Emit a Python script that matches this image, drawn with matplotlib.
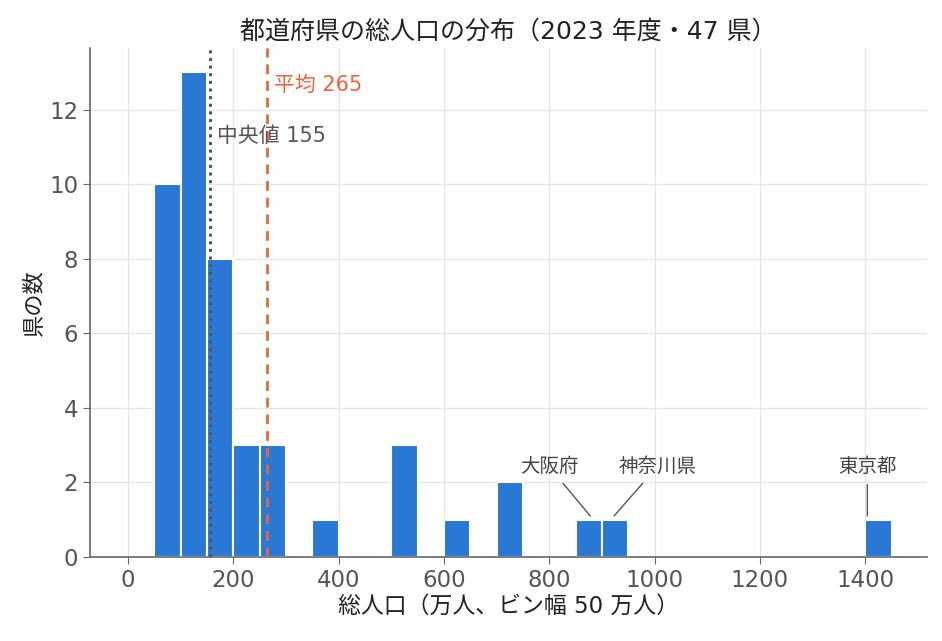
import matplotlib
matplotlib.use("Agg")
import matplotlib.pyplot as plt

plt.rcParams['font.family'] = ['DejaVu Sans', 'Noto Sans CJK JP']

bin_left = [50, 100, 150, 200, 250, 350, 500, 600, 700, 850, 900, 1400]
counts = [10, 13, 8, 3, 3, 1, 3, 1, 2, 1, 1, 1]
bin_width = 50
mean_val = 265
median_val = 155
labels = ["大阪府", "神奈川県", "東京都"]
label_pop = [878, 923, 1404]
label_text_x = [800, 1005, 1404]

fig = plt.figure(figsize=(9.42, 6.41), dpi=100)
ax = fig.add_axes([0.0955, 0.131, 0.889, 0.794])

ax.set_axisbelow(True)
ax.grid(True, color='#e6e6e6', linewidth=1.0)
ax.bar(bin_left, counts, width=bin_width, align='edge', color='#2a78d6',
       edgecolor='white', linewidth=1.5, zorder=2)

ax.axvline(median_val, color='#555555', linestyle=(0, (1, 1.5)), linewidth=2.2, zorder=3)
ax.axvline(mean_val, color='#e8663d', linestyle=(0, (3.5, 2.5)), linewidth=2.0, zorder=3)
ax.text(mean_val + 13, 12.65, f"平均 {mean_val}", color='#e8663d', fontsize=15, va='center')
ax.text(median_val + 15, 11.3, f"中央値 {median_val}", color='#555555', fontsize=15, va='center')

for lab, px, tx in zip(labels, label_pop, label_text_x):
    ax.annotate(lab, xy=(px, 1.1), xytext=(tx, 2.42),
                ha='center', va='center', fontsize=14, color='#444444',
                arrowprops=dict(arrowstyle='-', color='#555555', lw=1.0, shrinkA=4, shrinkB=0))

ax.set_xlim(-72, 1518)
ax.set_ylim(0, 13.65)
ax.set_xticks([0, 200, 400, 600, 800, 1000, 1200, 1400])
ax.set_yticks([0, 2, 4, 6, 8, 10, 12])
for s in ['top', 'right']:
    ax.spines[s].set_visible(False)
for s in ['left', 'bottom']:
    ax.spines[s].set_color('#666666')
    ax.spines[s].set_linewidth(1.2)
ax.tick_params(colors='#666666', labelcolor='#555555', labelsize=16.5, length=5)

ax.set_title("都道府県の総人口の分布（2023 年度・47 県）", fontsize=18, color='#222222', pad=7)
ax.set_xlabel("総人口（万人、ビン幅 50 万人）", fontsize=16.5, color='#222222', labelpad=2)
ax.set_ylabel("県の数", fontsize=16, color='#222222', labelpad=3)

fig.savefig("out.png", dpi=100)
